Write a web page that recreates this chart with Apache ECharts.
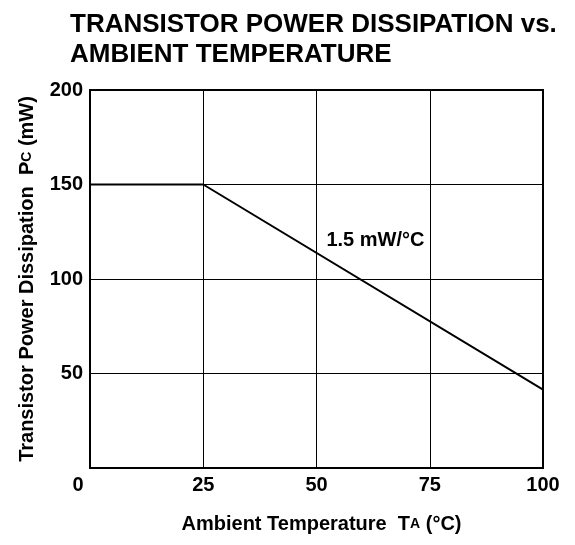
<!DOCTYPE html>
<html>
<head>
<meta charset="utf-8">
<script src="https://cdn.jsdelivr.net/npm/echarts@6/dist/echarts.min.js"></script>
<style>html,body{margin:0;padding:0;background:#fff}#c{width:575px;height:545px}</style>
</head>
<body>
<div id="c"></div>
<script>
// Data
var temperature = [0, 25, 100];          // Ambient temperature TA (°C)
var powerDissipation = [150, 150, 41.5]; // Pc (mW)
var xTicks = [0, 25, 50, 75, 100];
var yTicks = [50, 100, 150, 200];
var annotationPoint = [63, 120.6];
var annotationText = '1.5 mW/°C';

var FONT = '"Liberation Sans", Arial, Helvetica, sans-serif';
var chart = echarts.init(document.getElementById('c'), null, {renderer: 'canvas'});

var lineData = temperature.map(function (t, i) { return [t, powerDissipation[i]]; });

chart.setOption({
  animation: false,
  backgroundColor: '#fff',
  title: {
    text: 'TRANSISTOR POWER DISSIPATION vs.\nAMBIENT TEMPERATURE',
    left: 65,
    top: 5,
    textStyle: {fontFamily: FONT, fontSize: 26, fontWeight: 'bold', color: '#000', lineHeight: 30}
  },
  grid: {
    left: 90, right: 32, top: 90, bottom: 77,
    show: true, borderColor: '#000', borderWidth: 2, backgroundColor: 'transparent'
  },
  xAxis: {
    type: 'value', min: 0, max: 100, interval: 25,
    name: 'Ambient Temperature  T{s|A} (°C)',
    nameLocation: 'middle', nameGap: 46,
    nameTextStyle: {fontFamily: FONT, fontSize: 20, fontWeight: 'bold', color: '#000', padding: [0, 0, 0, 10],
      rich: {s: {fontFamily: FONT, fontSize: 14, fontWeight: 'bold', color: '#000'}}},
    axisLine: {show: false},
    axisTick: {show: false},
    splitLine: {show: true, lineStyle: {color: '#000', width: 1}},
    axisLabel: {
      margin: 7, color: '#000', fontFamily: FONT, fontSize: 20, fontWeight: 'bold',
      formatter: function (v) {
        if (xTicks.indexOf(v) < 0) return '';
        return v === 0 ? '{z|0}' : String(v);
      },
      rich: {z: {fontFamily: FONT, fontSize: 20, fontWeight: 'bold', color: '#000', padding: [0, 24, 0, 0]}}
    }
  },
  yAxis: {
    type: 'value', min: 0, max: 200, interval: 50,
    name: 'Transistor Power Dissipation  P{s|C} (mW)',
    nameLocation: 'middle', nameGap: 53, nameRotate: 90,
    nameTextStyle: {fontFamily: FONT, fontSize: 20, fontWeight: 'bold', color: '#000',
      rich: {s: {fontFamily: FONT, fontSize: 14, fontWeight: 'bold', color: '#000'}}},
    axisLine: {show: false},
    axisTick: {show: false},
    splitLine: {show: true, lineStyle: {color: '#000', width: 1}},
    axisLabel: {
      margin: 7, color: '#000', fontFamily: FONT, fontSize: 20, fontWeight: 'bold',
      formatter: function (v) { return yTicks.indexOf(v) >= 0 ? String(v) : ''; }
    }
  },
  series: [
    {
      type: 'line', data: lineData, symbol: 'none',
      lineStyle: {color: '#000', width: 2}, z: 5
    },
    {
      type: 'scatter', data: [annotationPoint], symbolSize: 0, silent: true,
      itemStyle: {opacity: 1},
      label: {
        show: true, position: 'inside', formatter: annotationText, opacity: 1,
        fontFamily: FONT, fontSize: 20, fontWeight: 'bold', color: '#000'
      }
    }
  ]
});
</script>
</body>
</html>
